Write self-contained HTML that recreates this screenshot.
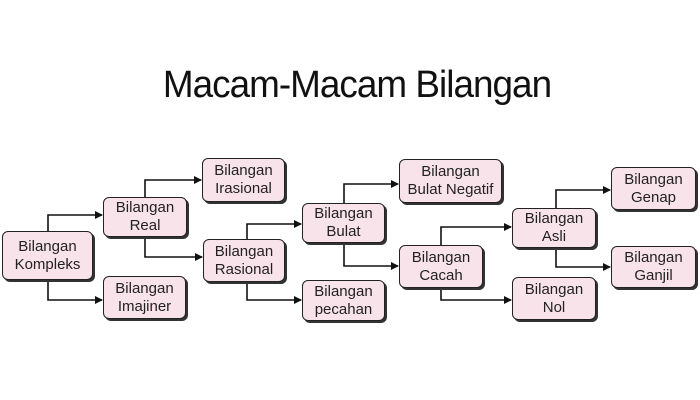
<!DOCTYPE html>
<html><head><meta charset="utf-8"><style>
body{margin:0;width:700px;height:400px;background:#fff;position:relative;overflow:hidden;font-family:"Liberation Sans",sans-serif}
.t{position:absolute;left:7px;width:700px;top:64px;text-align:center;font-size:38px;color:#111;letter-spacing:-1px;transform:scaleX(0.97)}
.b{position:absolute;box-sizing:border-box;background:#f9e3ea;border:1.5px solid #222;border-radius:6px;box-shadow:2px 2px 0 #333;display:flex;align-items:center;justify-content:center;text-align:center;font-size:15px;line-height:18px;color:#222}
svg{position:absolute;left:0;top:0}
</style></head><body>
<div class="t">Macam-Macam Bilangan</div>
<svg width="700" height="400">
<defs><marker id="a" markerWidth="8" markerHeight="8" refX="7" refY="4" orient="auto" markerUnits="userSpaceOnUse"><path d="M0,0L8,4L0,8z" fill="#111"/></marker></defs>
<g fill="none" stroke="#111" stroke-width="1.6" marker-end="url(#a)">
<path d="M48 231V215H102"/><path d="M48 280V300H102"/>
<path d="M145 197V180H201"/><path d="M145 236V257H202"/>
<path d="M247 239V224H301"/><path d="M247 282V300H301"/>
<path d="M344 203V184H398"/><path d="M344 243V266H398"/>
<path d="M441 245V227H511"/><path d="M441 288V300H511"/>
<path d="M556 208V190H610"/><path d="M556 248V267H610"/>
</g></svg>
<div class="b" style="left:2px;top:231px;width:91px;height:49px">Bilangan<br>Kompleks</div>
<div class="b" style="left:103px;top:197px;width:84px;height:40px">Bilangan<br>Real</div>
<div class="b" style="left:103px;top:276px;width:83px;height:43px">Bilangan<br>Imajiner</div>
<div class="b" style="left:202px;top:158px;width:83px;height:44px">Bilangan<br>Irasional</div>
<div class="b" style="left:203px;top:239px;width:82px;height:43px">Bilangan<br>Rasional</div>
<div class="b" style="left:302px;top:203px;width:83px;height:40px">Bilangan<br>Bulat</div>
<div class="b" style="left:302px;top:280px;width:83px;height:41px">Bilangan<br>pecahan</div>
<div class="b" style="left:399px;top:159px;width:103px;height:44px">Bilangan<br>Bulat Negatif</div>
<div class="b" style="left:399px;top:245px;width:84px;height:43px">Bilangan<br>Cacah</div>
<div class="b" style="left:512px;top:208px;width:84px;height:40px">Bilangan<br>Asli</div>
<div class="b" style="left:512px;top:277px;width:84px;height:43px">Bilangan<br>Nol</div>
<div class="b" style="left:611px;top:167px;width:85px;height:43px">Bilangan<br>Genap</div>
<div class="b" style="left:611px;top:246px;width:85px;height:42px">Bilangan<br>Ganjil</div>
</body></html>
